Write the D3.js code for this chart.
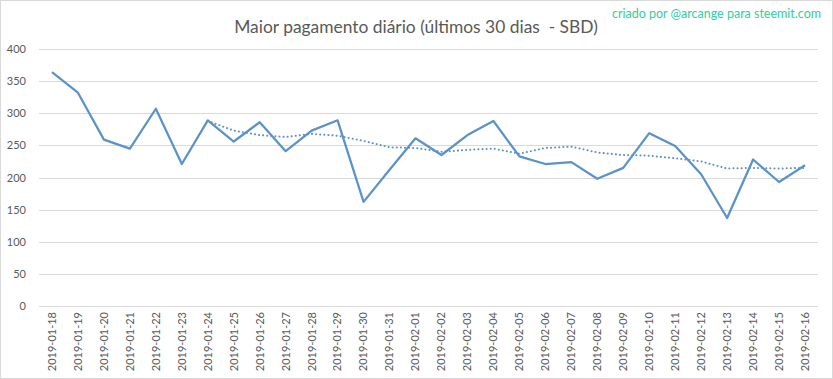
<!DOCTYPE html>
<html><head><meta charset="utf-8">
<script src="https://cdn.jsdelivr.net/npm/d3@7/dist/d3.min.js"></script>
<style>body{margin:0;background:#fff}svg{display:block}</style>
</head><body>
<script>
const dates = ["2019-01-18","2019-01-19","2019-01-20","2019-01-21","2019-01-22","2019-01-23","2019-01-24","2019-01-25","2019-01-26","2019-01-27","2019-01-28","2019-01-29","2019-01-30","2019-01-31","2019-02-01","2019-02-02","2019-02-03","2019-02-04","2019-02-05","2019-02-06","2019-02-07","2019-02-08","2019-02-09","2019-02-10","2019-02-11","2019-02-12","2019-02-13","2019-02-14","2019-02-15","2019-02-16"];
const payout = [364,332,259,245,307,221,289,256,286,241,273,289,162,212,261,235,266,288,233,221,224,198,215,269,249,205,137,228,193,219];
const trend = [null,null,null,null,null,null,288,273,266,263,268,265,257,247,246,240,243,245,237,246,248,239,235,234,230,225,214,215,214,215];
const yTicks = [0,50,100,150,200,250,300,350,400];
const title = "Maior pagamento diário (últimos 30 dias  - SBD)";
const credit = "criado por @arcange para steemit.com";

const FONT = "Lato, 'Open Sans', sans-serif";
const W = 833, H = 379;
const svg = d3.select("body").append("svg").attr("width", W).attr("height", H);
svg.append("rect").attr("x",0.5).attr("y",0.5).attr("width",W-1).attr("height",H-1)
  .attr("fill","#fff").attr("stroke","#d9d9d9");

const x = d3.scaleBand().domain(dates).range([39, 818]);
const y = d3.scaleLinear().domain([0, 400]).range([306, 49]);

const grid = svg.append("g");
grid.selectAll("line").data(yTicks).join("line")
  .attr("x1", 39).attr("x2", 818)
  .attr("y1", d => Math.round(y(d)) + 0.5).attr("y2", d => Math.round(y(d)) + 0.5)
  .attr("stroke", "#d9d9d9").attr("stroke-width", 1);

const yAxis = svg.append("g").attr("transform", "translate(29,0)")
  .call(d3.axisLeft(y).tickValues(yTicks).tickSize(0).tickPadding(3));
yAxis.select(".domain").remove();
yAxis.selectAll("text").attr("fill","#595959").style("font-family",FONT).style("font-size","11px");

const xAxis = svg.append("g").attr("transform", "translate(0,306)")
  .call(d3.axisBottom(x).tickSize(0).tickPadding(0));
xAxis.select(".domain").remove();
xAxis.selectAll("text")
  .attr("fill","#595959").style("font-family",FONT).style("font-size","11px")
  .attr("transform","rotate(-90)").attr("text-anchor","end")
  .attr("x", -6).attr("y", 0).attr("dy","0.35em");

const cx = d => x(d) + x.bandwidth()/2;
const line = d3.line().x((d,i) => cx(dates[i])).y(d => y(d));
svg.append("path").datum(payout).attr("d", line)
  .attr("fill","none").attr("stroke","#5b93c9").attr("stroke-width",2.25).attr("stroke-linejoin","round");

const tline = d3.line().defined(d => d != null).x((d,i) => cx(dates[i])).y(d => y(d));
svg.append("path").datum(trend).attr("d", tline)
  .attr("fill","none").attr("stroke","#5b93c9").attr("stroke-width",2)
  .attr("stroke-dasharray","0.1,4").attr("stroke-linecap","round");

svg.append("text").attr("x", 416).attr("y", 33).attr("text-anchor","middle")
  .attr("fill","#595959").style("font-family",FONT).style("font-size","17.4px")
  .style("white-space","pre").attr("xml:space","preserve")
  .text(title);
svg.append("text").attr("x", 821).attr("y", 18).attr("text-anchor","end")
  .attr("fill","#33cc9f").style("font-family",FONT).style("font-size","12.5px")
  .text(credit);
</script>
</body></html>
